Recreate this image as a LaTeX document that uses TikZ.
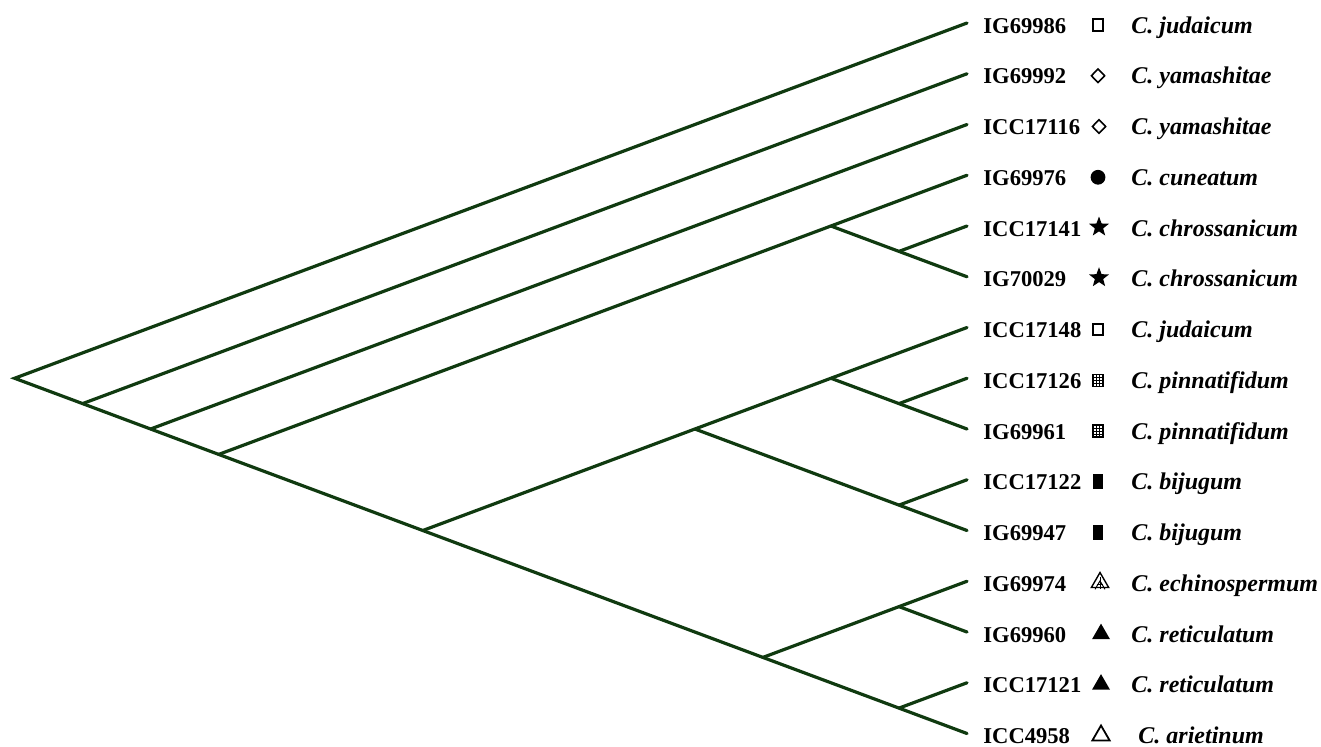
\documentclass[tikz,border=0pt]{standalone}
\usepackage{fontspec}
\setmainfont{Liberation Serif}
\usetikzlibrary{shapes.geometric}
\definecolor{brc}{RGB}{16,58,16}
\begin{document}
\begin{tikzpicture}[x=0.5pt,y=-0.5pt,
  br/.style={draw=brc,line width=1.6pt,line cap=round},
  idl/.style={anchor=base west,inner sep=0pt,font=\fontsize{11.3}{12}\selectfont\bfseries},
  spl/.style={anchor=base west,inner sep=0pt,font=\fontsize{12}{13}\selectfont\bfseries\itshape},
  sym/.style={inner sep=0pt,outer sep=0pt},
  opensq/.style={sym,draw,line width=1pt,minimum width=5pt,minimum height=5.6pt},
  opendia/.style={sym,draw,diamond,line width=0.8pt,minimum width=6.6pt,minimum height=6.8pt},
  fcirc/.style={sym,circle,fill,minimum size=7.4pt},
  fstar/.style={sym,star,star points=5,star point ratio=2.4,fill,minimum size=10.5pt},
  frect/.style={sym,fill,minimum width=5pt,minimum height=7.5pt},
  ftri/.style={sym,regular polygon,regular polygon sides=3,fill,minimum size=10.4pt},
  otri/.style={sym,regular polygon,regular polygon sides=3,draw,line width=0.9pt,minimum size=10pt}]
\useasboundingbox (0,0) rectangle (1321,746);
% tips
\foreach \i in {1,...,15}{\coordinate (t\i) at (967,{23+50.75*(\i-1)});}
% internal nodes
\coordinate (r)  at (14.6,378.25);
\coordinate (n1) at (82.6,403.6);
\coordinate (n2) at (150.6,429);
\coordinate (n3) at (218.7,454.4);
\coordinate (n4) at (422.8,530.5);
\coordinate (a)  at (830.9,226);
\coordinate (p1) at (899,251.4);
\coordinate (b)  at (694.9,429);
\coordinate (d)  at (830.9,378.25);
\coordinate (p2) at (899,403.6);
\coordinate (p3) at (899,505.1);
\coordinate (c)  at (762.9,657.4);
\coordinate (p4) at (899,606.6);
\coordinate (p5) at (899,708.1);
% branches
\draw[br] (t1) -- (r) -- (n1) -- (n2) -- (n3) -- (n4) -- (c) -- (p5) -- (t15);
\draw[br] (n1) -- (t2);
\draw[br] (n2) -- (t3);
\draw[br] (n3) -- (a) -- (t4);
\draw[br] (a) -- (p1) -- (t6);
\draw[br] (p1) -- (t5);
\draw[br] (n4) -- (b) -- (d) -- (t7);
\draw[br] (d) -- (p2) -- (t9);
\draw[br] (p2) -- (t8);
\draw[br] (b) -- (p3) -- (t11);
\draw[br] (p3) -- (t10);
\draw[br] (c) -- (p4) -- (t12);
\draw[br] (p4) -- (t13);
\draw[br] (p5) -- (t14);
% labels
\foreach \i/\id/\sp in {1/IG69986/judaicum,2/IG69992/yamashitae,3/ICC17116/yamashitae,
  4/IG69976/cuneatum,5/ICC17141/chrossanicum,6/IG70029/chrossanicum,7/ICC17148/judaicum,
  8/ICC17126/pinnatifidum,9/IG69961/pinnatifidum,10/ICC17122/bijugum,11/IG69947/bijugum,
  12/IG69974/echinospermum,13/IG69960/reticulatum,14/ICC17121/reticulatum}{
  \node[idl] (id\i) at (983,{33+50.75*(\i-1)}) {\id};
  \node[spl] (sp\i) at (1131,{33+50.75*(\i-1)}) {C. \sp};
}
\node[idl] (id15) at (983,{33+50.75*14}) {ICC4958};
\node[spl] (sp15) at (1138,{33+50.75*14}) {C. arietinum};
% symbols
\node[opensq] (s1) at (1098,25) {};
\node[opendia] (s2) at (1098,75.75) {};
\node[opendia] (s3) at (1099,126.5) {};
\node[fcirc] (s4) at (1098,177.25) {};
\node[fstar] (s5) at (1099,227) {};
\node[fstar] (s6) at (1099,277.7) {};
\node[opensq] (s7) at (1098,329.5) {};
% pinnatifidum grid squares
\foreach \yy [count=\k from 8] in {380.25,431}{
  \begin{scope}[shift={(1098,\yy)}]
    \node[sym,draw,line width=0.7pt,minimum width=5pt,minimum height=6pt] (s\k) at (0,0) {};
    \foreach \gx in {-1.7,1.7}{\draw[line width=0.5pt] (\gx,-6) -- (\gx,6);}
    \foreach \gy in {-3,0,3}{\draw[line width=0.5pt] (-5,\gy) -- (5,\gy);}
  \end{scope}
}
\node[frect] (s10) at (1098,481.75) {};
\node[frect] (s11) at (1098,532.5) {};
% echinospermum hatched triangle
\begin{scope}[shift={(1100,582.5)}]
  \node[otri,line width=0.7pt,minimum size=10pt] (s12) at (0,0) {};
  \draw[line width=0.5pt] (0,-5.5) -- (0,6.5);
  \draw[line width=0.5pt] (-3.4,1.6) -- (3.4,1.6);
  \draw[line width=0.5pt] (-6.2,4.9) -- (6.2,4.9);
  \draw[line width=0.5pt] (-5,6.8) -- (0,-1.6) -- (5,6.8);
\end{scope}
\node[ftri] (s13) at (1101,634) {};
\node[ftri] (s14) at (1101,684.5) {};
\node[otri] (s15) at (1101,735.5) {};
\end{tikzpicture}
\end{document}
